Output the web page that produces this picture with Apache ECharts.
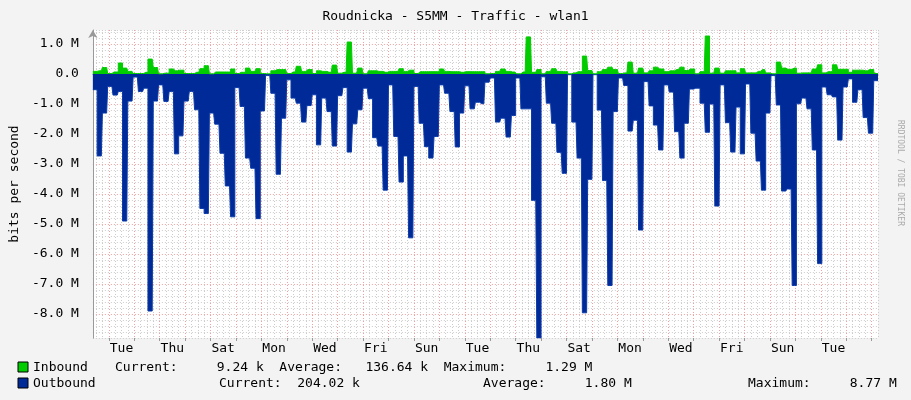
<!DOCTYPE html>
<html><head><meta charset="utf-8">
<script src="https://cdn.jsdelivr.net/npm/echarts@6/dist/echarts.min.js"></script>
<style>html,body{margin:0;padding:0;background:#f3f3f3}#c{width:911px;height:400px}</style>
</head><body><div id="c"></div>
<script>
// Outbound (M bits/s, drawn negative), ~4.8 h bins
const outbound = [-0.52,-2.73,-1.3,-0.41,-0.7,-0.58,-4.9,-0.9,-0.1,-0.58,-0.47,-7.9,-0.9,-0.36,-0.91,-0.58,-2.66,-2.06,-0.9,-0.58,-1.19,-4.48,-4.65,-1.3,-1.67,-2.64,-3.73,-4.76,-0.45,-1.08,-2.8,-3.14,-4.82,-1.23,-0.05,-0.64,-3.34,-1.47,-0.19,
-0.8,-0.97,-1.6,-1.05,-0.69,-2.36,-0.8,-1.25,-2.4,-0.72,-0.45,-2.6,-1.66,-1.19,-0.47,-0.82,-2.12,-2.4,-3.87,-0.36,-2.08,-3.6,-2.73,-5.46,-0.41,-1.64,-2.42,-2.8,-2.08,-0.36,-0.64,-1.25,-2.43,-1.3,-0.39,-1.16,-0.94,-0.99,
-0.27,-0.13,-1.6,-1.47,-2.1,-1.38,-0.13,-1.16,-1.16,-4.21,-8.8,-0.09,-0.97,-1.64,-2.61,-3.31,-0.02,-1.6,-2.8,-7.96,-3.51,-0.02,-1.2,-3.55,-7.05,-1.25,-0.13,-0.38,-1.9,-1.54,-5.2,-0.25,-1.06,-1.7,-2.53,-0.36,-0.6,-1.92,-2.8,
-1.64,-0.5,-0.47,-0.97,-1.94,-1.0,-4.4,-0.36,-1.62,-2.6,-1.1,-2.66,-0.33,-1.97,-2.9,-3.87,-1.3,-0.05,-1.03,-3.9,-3.83,-7.05,-0.99,-0.8,-1.16,-2.53,-6.32,-0.43,-0.69,-0.76,-2.2,-0.43,-0.16,-0.94,-0.52,-1.45,-1.97,-0.22];
const inbound = [0.09,0.11,0.22,0.02,0.07,0.37,0.2,0.09,0.02,0.02,0.06,0.5,0.22,0.01,0.03,0.17,0.11,0.13,0.02,0.02,0.06,0.18,0.28,0.01,0.07,0.07,0.07,0.17,0.02,0.06,0.2,0.09,0.18,0.02,0.01,0.11,0.15,0.15,0.02,
0.07,0.26,0.09,0.15,0.02,0.11,0.09,0.06,0.3,0.03,0.06,1.07,0.03,0.2,0.01,0.11,0.11,0.09,0.06,0.09,0.09,0.18,0.09,0.13,0.02,0.08,0.08,0.08,0.08,0.17,0.09,0.08,0.08,0.06,0.08,0.08,0.08,0.08,
0.01,0.02,0.09,0.17,0.09,0.07,0.01,0.07,1.24,0.06,0.15,0.01,0.09,0.18,0.09,0.08,0.01,0.04,0.08,0.6,0.12,0.01,0.08,0.15,0.23,0.15,0.02,0.04,0.4,0.03,0.2,0.04,0.11,0.23,0.17,0.08,0.11,0.15,0.23,
0.12,0.17,0.01,0.08,1.27,0.03,0.2,0.03,0.11,0.11,0.04,0.18,0.04,0.04,0.09,0.15,0.04,0.01,0.4,0.2,0.16,0.2,0.03,0.04,0.04,0.17,0.31,0.04,0.08,0.31,0.16,0.16,0.06,0.13,0.13,0.11,0.15,0.02];
const dayLabels = ['Tue','Thu','Sat','Mon','Wed','Fri','Sun','Tue','Thu','Sat','Mon','Wed','Fri','Sun','Tue'];
const totalHours = 742, firstMidnight = 15;
const legendIn = 'Current:     9.24 k  Average:   136.64 k  Maximum:     1.29 M';
const legendOut = ['Current:  204.02 k','Average:     1.80 M','Maximum:     8.77 M'];

const hours = [], inData = [], outData = [];
for (let h = 0; h < totalHours; h++) {
  hours.push(h);
  const b = Math.min(outbound.length - 1, Math.floor(h * outbound.length / totalHours));
  inData.push(inbound[b]); outData.push(outbound[b]);
}
const mono = 'DejaVu Sans Mono';
const isInt = v => Math.abs(v - Math.round(v)) < 1e-6;
const chart = echarts.init(document.getElementById('c'));
chart.setOption({
  animation: false,
  backgroundColor: '#f3f3f3',
  title: {text: 'Roudnicka - S5MM - Traffic - wlan1', left: 'center', top: 5,
    textStyle: {fontFamily: mono, fontSize: 13, fontWeight: 'normal', color: '#000'}},
  grid: {left: 80, right: 33, top: 30, bottom: 62, show: true, backgroundColor: '#fff', borderWidth: 0},
  xAxis: [{
    type: 'category', data: hours, boundaryGap: false,
    axisLine: {lineStyle: {color: '#999'}, symbol: ['none', 'arrow'], symbolSize: [7, 8]},
    axisTick: {show: false}, axisLabel: {show: false},
    splitLine: {show: true, interval: i => (i - firstMidnight) % 6 === 0, lineStyle: {color: '#ccc', type: [1, 2]}}
  }, {
    type: 'category', data: hours, boundaryGap: false, position: 'bottom',
    axisLine: {show: false},
    axisTick: {show: true, interval: i => (i - firstMidnight) % 24 === 0, length: 3, inside: false, lineStyle: {color: '#999'}},
    axisLabel: {interval: i => (i - firstMidnight - 12) % 48 === 0, fontFamily: mono, fontSize: 13, color: '#000', margin: 4,
      formatter: (v, i) => dayLabels[Math.round((i - firstMidnight - 12) / 48)] || ''},
    splitLine: {show: true, interval: i => (i - firstMidnight) % 24 === 0, lineStyle: {color: '#f0a0a0', type: [1, 2]}}
  }],
  yAxis: {
    type: 'value', min: -8.8, max: 1.47, interval: 0.2,
    name: 'bits per second', nameLocation: 'middle', nameGap: 68, nameRotate: 90,
    nameTextStyle: {fontFamily: mono, fontSize: 13, color: '#000'},
    axisLine: {show: true, lineStyle: {color: '#999'}, symbol: ['none', 'arrow'], symbolSize: [7, 8]},
    axisTick: {show: false},
    axisLabel: {fontFamily: mono, fontSize: 13, color: '#000', margin: 14,
      formatter: v => isInt(v) ? (Math.round(v) === 0 ? '0.0' : Math.round(v).toFixed(1) + ' M') : ''},
    splitLine: {lineStyle: {color: ['#ccc','#ccc','#ccc','#ccc','#f0a0a0'], type: [1, 2]}}
  },
  series: [{
    name: 'Outbound', type: 'line', step: 'start', data: outData, symbol: 'none',
    lineStyle: {width: 1, color: '#0a3aa8'}, areaStyle: {color: '#002A97', opacity: 1}
  }, {
    name: 'Inbound', type: 'line', step: 'start', data: inData, symbol: 'none',
    lineStyle: {width: 1, color: '#00cc00'}, areaStyle: {color: '#00CC00', opacity: 1}
  }],
  graphic: [
    {type: 'text', left: 896, top: 120, rotation: -Math.PI / 2, style: {text: 'RRDTOOL / TOBI OETIKER', fontFamily: mono, fontSize: 8, fill: '#aaa'}},
    {type: 'rect', shape: {x: 18, y: 362, width: 10, height: 10}, style: {fill: '#00cc00', stroke: '#000', lineWidth: 1}},
    {type: 'rect', shape: {x: 18, y: 378, width: 10, height: 10}, style: {fill: '#002A97', stroke: '#000', lineWidth: 1}},
    {type: 'text', x: 33, y: 361, style: {text: 'Inbound', fontFamily: mono, fontSize: 13, fill: '#000'}},
    {type: 'text', x: 115, y: 361, style: {text: legendIn, fontFamily: mono, fontSize: 13, fill: '#000'}},
    {type: 'text', x: 33, y: 377, style: {text: 'Outbound', fontFamily: mono, fontSize: 13, fill: '#000'}},
    {type: 'text', x: 219, y: 377, style: {text: legendOut[0], fontFamily: mono, fontSize: 13, fill: '#000'}},
    {type: 'text', x: 483, y: 377, style: {text: legendOut[1], fontFamily: mono, fontSize: 13, fill: '#000'}},
    {type: 'text', x: 748, y: 377, style: {text: legendOut[2], fontFamily: mono, fontSize: 13, fill: '#000'}}
  ]
});
</script></body></html>
